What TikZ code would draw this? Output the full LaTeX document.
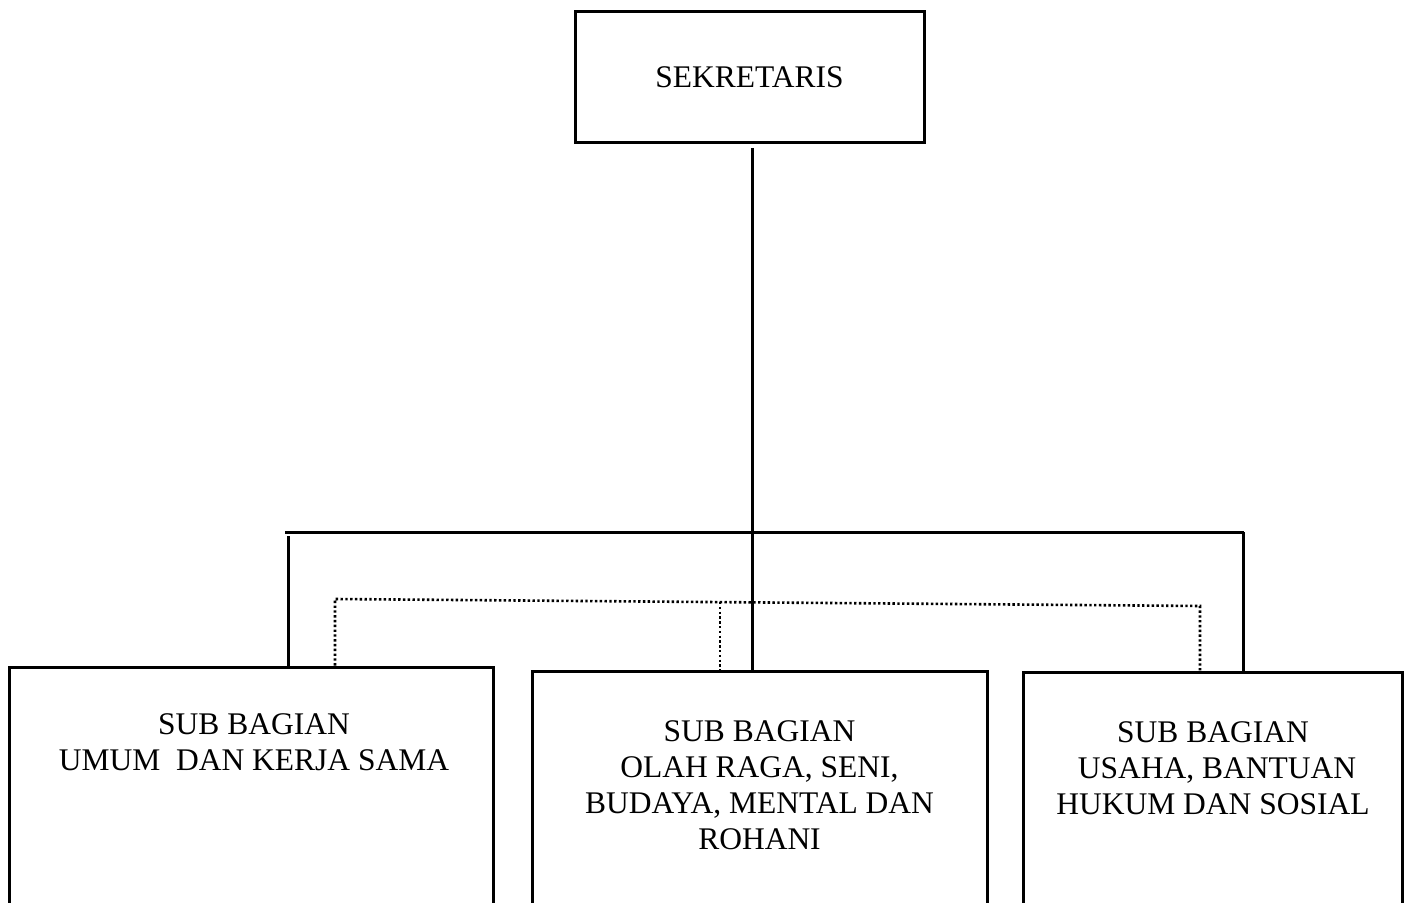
\documentclass[tikz,border=0pt]{standalone}
\usepackage{fontspec}
\setmainfont{Liberation Serif}
\usetikzlibrary{positioning}
\tikzset{
    unitbox/.style={
        draw,
        line width=1.5pt,
        inner sep=0pt
    },
    unittext/.style={
        align=center,
        inner sep=0pt,
        anchor=north,
        font=\fontsize{15.75}{18}\selectfont
    },
    link/.style={line width=1.5pt},
    dotlink/.style={line width=1.3pt, dash pattern=on 1.2pt off 1.2pt}
}

\begin{document}
\begin{tikzpicture}[x=0.5pt, y=-0.5pt]
    \useasboundingbox (0,0) rectangle (1408,903);
    \clip (0,0) rectangle (1408,903);
    % kepala
    \node[unitbox, minimum width=174.5pt, minimum height=65.5pt,
          font=\fontsize{15.75}{18}\selectfont] (sek) at (749.5,77) {SEKRETARIS};
    % sub bagian
    \node[unitbox, minimum width=242pt, minimum height=124pt] (umum) at (251,791) {};
    \node[unitbox, minimum width=227.5pt, minimum height=122pt] (olah) at (759.5,793) {};
    \node[unitbox, minimum width=189.5pt, minimum height=121.5pt] (usaha) at (1212.5,793.5) {};
    \node[unittext] (umumtxt) at (254,713) {SUB BAGIAN\\UMUM\ \ DAN KERJA SAMA};
    \node[unittext] (olahtxt) at (759.5,720) {SUB BAGIAN\\OLAH RAGA, SENI,\\BUDAYA, MENTAL DAN\\ROHANI};
    \node[unittext] (usahatxt) at (1213,721) {SUB BAGIAN\\\ USAHA, BANTUAN\\HUKUM DAN SOSIAL};
    % garis komando
    \coordinate (top) at (752,148);
    \coordinate (barL) at (285,532);
    \coordinate (barR) at (1244,532);
    \coordinate (dropL) at (288,536);
    \coordinate (dropR) at (1243,532);
    \draw[link] (top) -- (top |- olah.north);
    \draw[link] (barL) -- (barR);
    \draw[link] (dropL) -- (dropL |- umum.north);
    \draw[link] (dropR) -- (dropR |- usaha.north);
    % garis koordinasi
    \coordinate (dotL) at (335,599);
    \coordinate (dotM) at (720,602);
    \coordinate (dotR) at (1200,606);
    \draw[dotlink] (dotL |- umum.north) -- (dotL) -- (dotR) -- (dotR |- usaha.north);
    \draw[dotlink] (dotM) -- (dotM |- olah.north);
\end{tikzpicture}
\end{document}
